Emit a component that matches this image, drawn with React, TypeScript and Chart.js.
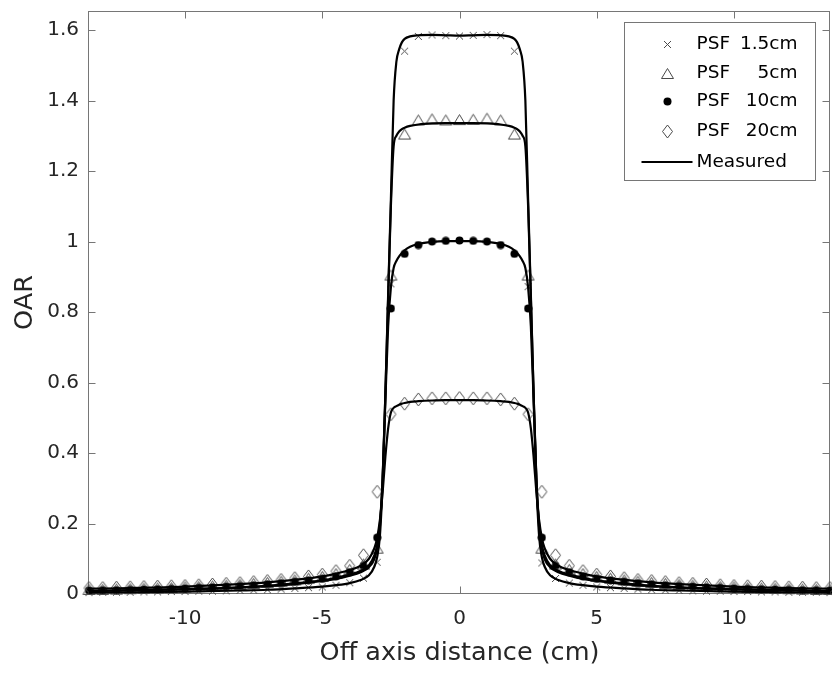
import React, { useEffect, useRef } from 'react';
import { Chart, registerables } from 'chart.js';

Chart.register(...registerables);

const FONT = '"DejaVu Sans", "Liberation Sans", Arial, sans-serif';
const TEXT = '#262626';
const AXIS = '#767676';
const MARK = '#4a4a4a';

// Axis ticks
const xTicks = [-10, -5, 0, 5, 10];
const xTickLabels = ['-10', '-5', '0', '5', '10'];
const yTicks = [0, 0.2, 0.4, 0.6, 0.8, 1, 1.2, 1.4, 1.6];
const yTickLabels = ['0', '0.2', '0.4', '0.6', '0.8', '1', '1.2', '1.4', '1.6'];

// PSF sample positions (cm)
const psfX = [
  -13.5, -13, -12.5, -12, -11.5, -11, -10.5, -10, -9.5, -9, -8.5, -8, -7.5, -7, -6.5, -6, -5.5, -5, -4.5, -4, -3.5, -3, -2.5, -2, -1.5, -1, -0.5,
  0,
  0.5, 1, 1.5, 2, 2.5, 3, 3.5, 4, 4.5, 5, 5.5, 6, 6.5, 7, 7.5, 8, 8.5, 9, 9.5, 10, 10.5, 11, 11.5, 12, 12.5, 13, 13.5,
];

const psf15 = [
  0.004, 0.005, 0.005, 0.005, 0.006, 0.006, 0.007, 0.007, 0.008, 0.008, 0.009, 0.010, 0.011, 0.012, 0.014, 0.016, 0.018, 0.020, 0.025, 0.032, 0.045, 0.090, 0.880, 1.540, 1.582, 1.586, 1.584,
  1.583,
  1.585, 1.587, 1.584, 1.540, 0.872, 0.088, 0.044, 0.031, 0.025, 0.020, 0.018, 0.016, 0.014, 0.012, 0.011, 0.010, 0.009, 0.008, 0.008, 0.007, 0.007, 0.006, 0.006, 0.005, 0.005, 0.005, 0.004,
];

const psf5 = [
  0.013, 0.013, 0.014, 0.015, 0.016, 0.017, 0.018, 0.020, 0.021, 0.023, 0.025, 0.027, 0.030, 0.033, 0.036, 0.040, 0.045, 0.050, 0.058, 0.070, 0.085, 0.130, 0.905, 1.305, 1.345, 1.348, 1.345,
  1.346,
  1.347, 1.350, 1.345, 1.305, 0.905, 0.130, 0.085, 0.070, 0.058, 0.050, 0.045, 0.040, 0.036, 0.033, 0.030, 0.027, 0.025, 0.023, 0.021, 0.020, 0.018, 0.017, 0.016, 0.015, 0.014, 0.013, 0.013,
];

const psf10 = [
  0.010, 0.011, 0.011, 0.012, 0.013, 0.014, 0.015, 0.016, 0.018, 0.019, 0.021, 0.023, 0.025, 0.028, 0.031, 0.035, 0.039, 0.043, 0.050, 0.062, 0.080, 0.160, 0.810, 0.965, 0.990, 1.000, 1.002,
  1.003,
  1.002, 1.000, 0.990, 0.965, 0.810, 0.160, 0.080, 0.062, 0.050, 0.043, 0.039, 0.035, 0.031, 0.028, 0.025, 0.023, 0.021, 0.019, 0.018, 0.016, 0.015, 0.014, 0.013, 0.012, 0.011, 0.011, 0.010,
];

const psf20 = [
  0.017, 0.017, 0.018, 0.019, 0.020, 0.021, 0.022, 0.023, 0.025, 0.027, 0.029, 0.031, 0.034, 0.037, 0.040, 0.045, 0.050, 0.055, 0.065, 0.080, 0.110, 0.290, 0.510, 0.540, 0.552, 0.555, 0.555,
  0.556,
  0.555, 0.555, 0.552, 0.540, 0.510, 0.290, 0.110, 0.080, 0.065, 0.055, 0.050, 0.045, 0.040, 0.037, 0.034, 0.031, 0.029, 0.027, 0.025, 0.023, 0.022, 0.021, 0.020, 0.019, 0.018, 0.017, 0.017,
];

// Measured profile positions (cm)
const measX = [
  -13.5, -12, -10, -8, -7, -6, -5, -4.5, -4, -3.6, -3.3, -3.1, -3.0, -2.9, -2.8, -2.7, -2.6, -2.5, -2.4, -2.3, -2.2, -2.1, -2.0, -1.8, -1.5, -1.0, -0.5,
  0,
  0.5, 1.0, 1.5, 1.8, 2.0, 2.1, 2.2, 2.3, 2.4, 2.5, 2.6, 2.7, 2.8, 2.9, 3.0, 3.1, 3.3, 3.6, 4, 4.5, 5, 6, 7, 8, 10, 12, 13.5,
];

const meas15 = [
  0.004, 0.005, 0.007, 0.010, 0.012, 0.016, 0.021, 0.025, 0.031, 0.040, 0.053, 0.078, 0.105, 0.165, 0.32, 0.57, 0.85, 1.12, 1.40, 1.51, 1.545, 1.565, 1.575, 1.582, 1.585, 1.586, 1.585,
  1.584,
  1.585, 1.586, 1.585, 1.582, 1.575, 1.565, 1.545, 1.51, 1.40, 1.12, 0.85, 0.57, 0.32, 0.165, 0.105, 0.078, 0.053, 0.040, 0.031, 0.025, 0.021, 0.016, 0.012, 0.010, 0.007, 0.005, 0.004,
];

const meas5 = [
  0.008, 0.010, 0.013, 0.018, 0.022, 0.028, 0.037, 0.043, 0.052, 0.062, 0.076, 0.10, 0.13, 0.19, 0.33, 0.57, 0.84, 1.10, 1.27, 1.30, 1.312, 1.319, 1.323, 1.328, 1.332, 1.335, 1.336,
  1.336,
  1.336, 1.335, 1.332, 1.328, 1.323, 1.319, 1.312, 1.30, 1.27, 1.10, 0.84, 0.57, 0.33, 0.19, 0.13, 0.10, 0.076, 0.062, 0.052, 0.043, 0.037, 0.028, 0.022, 0.018, 0.013, 0.010, 0.008,
];

const meas10 = [
  0.009, 0.011, 0.014, 0.019, 0.023, 0.030, 0.039, 0.046, 0.055, 0.066, 0.082, 0.11, 0.14, 0.20, 0.33, 0.55, 0.76, 0.87, 0.925, 0.945, 0.958, 0.967, 0.975, 0.985, 0.993, 0.999, 1.001,
  1.001,
  1.001, 0.999, 0.993, 0.985, 0.975, 0.967, 0.958, 0.945, 0.925, 0.87, 0.76, 0.55, 0.33, 0.20, 0.14, 0.11, 0.082, 0.066, 0.055, 0.046, 0.039, 0.030, 0.023, 0.019, 0.014, 0.011, 0.009,
];

const meas20 = [
  0.015, 0.017, 0.021, 0.028, 0.033, 0.040, 0.050, 0.058, 0.068, 0.080, 0.10, 0.13, 0.16, 0.21, 0.29, 0.39, 0.47, 0.515, 0.528, 0.533, 0.537, 0.540, 0.542, 0.545, 0.547, 0.549, 0.550,
  0.550,
  0.550, 0.549, 0.547, 0.545, 0.542, 0.540, 0.537, 0.533, 0.528, 0.515, 0.47, 0.39, 0.29, 0.21, 0.16, 0.13, 0.10, 0.080, 0.068, 0.058, 0.050, 0.040, 0.033, 0.028, 0.021, 0.017, 0.015,
];

const psfLabels = ['PSF 1.5cm', 'PSF 5cm', 'PSF 10cm', 'PSF 20cm'];
const measuredLabel = 'Measured';

function makeMarker(kind: string): HTMLCanvasElement {
  const c = document.createElement('canvas');
  if (kind === 'cross') {
    c.width = 9; c.height = 9;
    const ctx = c.getContext('2d')!;
    ctx.strokeStyle = MARK; ctx.lineWidth = 1;
    ctx.beginPath();
    ctx.moveTo(1, 1); ctx.lineTo(8, 8);
    ctx.moveTo(8, 1); ctx.lineTo(1, 8);
    ctx.stroke();
  } else if (kind === 'triangle') {
    c.width = 15; c.height = 13;
    const ctx = c.getContext('2d')!;
    ctx.strokeStyle = MARK; ctx.lineWidth = 1;
    ctx.beginPath();
    ctx.moveTo(7.5, 1.5); ctx.lineTo(13.5, 11.5); ctx.lineTo(1.5, 11.5); ctx.closePath();
    ctx.stroke();
  } else if (kind === 'dot') {
    c.width = 9; c.height = 9;
    const ctx = c.getContext('2d')!;
    ctx.fillStyle = '#000';
    ctx.beginPath(); ctx.arc(4.5, 4.5, 4, 0, Math.PI * 2); ctx.fill();
  } else {
    c.width = 13; c.height = 15;
    const ctx = c.getContext('2d')!;
    ctx.strokeStyle = MARK; ctx.lineWidth = 1;
    ctx.beginPath();
    ctx.moveTo(6.5, 1); ctx.lineTo(11.5, 7.5); ctx.lineTo(6.5, 14); ctx.lineTo(1.5, 7.5); ctx.closePath();
    ctx.stroke();
  }
  return c;
}

function zip(xs: number[], ys: number[]) {
  return xs.map((x, i) => ({ x, y: ys[i] }));
}

export default function App() {
  const ref = useRef<HTMLCanvasElement>(null);

  useEffect(() => {
    if (!ref.current) return;
    const markers = ['cross', 'triangle', 'dot', 'diamond'].map(makeMarker);
    const psfSeries = [psf15, psf5, psf10, psf20];
    const measSeries = [meas15, meas5, meas10, meas20];

    const lineSets = measSeries.map((ys, i) => ({
      label: i === 0 ? measuredLabel : measuredLabel + ' ' + i,
      data: zip(measX, ys),
      showLine: true,
      borderColor: '#000',
      borderWidth: 2.2,
      pointRadius: 0,
      cubicInterpolationMode: 'monotone' as const,
      clip: false as const,
    }));
    const psfSets = psfSeries.map((ys, i) => ({
      label: psfLabels[i],
      data: zip(psfX, ys),
      showLine: false,
      pointStyle: markers[i],
      pointRadius: 5,
      borderColor: MARK,
      backgroundColor: MARK,
      clip: false as const,
    }));

    const framePlugin = {
      id: 'frame',
      beforeDatasetsDraw(chart: any) {
        const { ctx, chartArea: a, scales } = chart;
        ctx.save();
        ctx.strokeStyle = AXIS;
        ctx.lineWidth = 1;
        const L = Math.round(a.left) - 0.5;
        const R = Math.round(a.right) - 0.5;
        const T = Math.round(a.top) + 0.5;
        const B = Math.round(a.bottom) - 0.5;
        ctx.strokeRect(L, T, R - L, B - T);
        const tl = 7;
        ctx.beginPath();
        xTicks.forEach((v) => {
          const px = Math.round(scales.x.getPixelForValue(v)) + 0.5;
          ctx.moveTo(px, B); ctx.lineTo(px, B - tl);
          ctx.moveTo(px, T); ctx.lineTo(px, T + tl);
        });
        yTicks.forEach((v) => {
          const py = Math.round(scales.y.getPixelForValue(v)) + 0.5;
          ctx.moveTo(L, py); ctx.lineTo(L + tl, py);
          ctx.moveTo(R, py); ctx.lineTo(R - tl, py);
        });
        ctx.stroke();
        ctx.restore();
      },
    };

    const legendPlugin = {
      id: 'matlabLegend',
      afterDraw(chart: any) {
        const { ctx, chartArea: a } = chart;
        const w = 191, h = 158;
        const x0 = Math.round(a.right) - 15 - w + 0.5;
        const y0 = Math.round(a.top) + 11 + 0.5;
        ctx.save();
        ctx.fillStyle = '#fff';
        ctx.fillRect(x0, y0, w, h);
        ctx.strokeStyle = AXIS;
        ctx.lineWidth = 1;
        ctx.strokeRect(x0, y0, w, h);
        ctx.font = `18.5px ${FONT}`;
        ctx.fillStyle = '#000';
        ctx.textBaseline = 'middle';
        const rows = [21.5, 50.5, 78.5, 108.5, 139.5];
        const mx = x0 + 43;
        const tLeft = x0 + 72;
        const tRight = x0 + 173;
        psfLabels.forEach((lab, i) => {
          const cy = y0 + rows[i];
          const m = markers[i];
          ctx.drawImage(m, Math.round(mx - m.width / 2), Math.round(cy - m.height / 2));
          const sp = lab.indexOf(' ');
          ctx.textAlign = 'left';
          ctx.fillText(lab.slice(0, sp), tLeft, cy);
          ctx.textAlign = 'right';
          ctx.fillText(lab.slice(sp + 1), tRight, cy);
        });
        const cy = y0 + rows[4];
        ctx.strokeStyle = '#000';
        ctx.lineWidth = 2.2;
        ctx.beginPath();
        ctx.moveTo(x0 + 17, cy); ctx.lineTo(x0 + 68, cy);
        ctx.stroke();
        ctx.textAlign = 'left';
        ctx.fillText(measuredLabel, tLeft, cy);
        ctx.restore();
      },
    };

    const chart = new Chart(ref.current, {
      type: 'scatter',
      data: { datasets: [...lineSets, ...psfSets] as any },
      options: {
        animation: false,
        responsive: false,
        devicePixelRatio: 1,
        layout: { autoPadding: false, padding: { top: 11, right: 2, left: 0, bottom: 0 } },
        plugins: { legend: { display: false }, tooltip: { enabled: false } },
        scales: {
          x: {
            type: 'linear',
            min: -13.5,
            max: 13.5,
            afterBuildTicks: (s: any) => { s.ticks = xTicks.map((v) => ({ value: v })); },
            afterFit: (s: any) => { s.height = 82; s.paddingLeft = 0; s.paddingRight = 0; },
            ticks: {
              autoSkip: false,
              maxRotation: 0,
              padding: 13,
              color: TEXT,
              font: { family: FONT, size: 20 },
              callback: (v: any) => { const i = xTicks.indexOf(Number(v)); return i >= 0 ? xTickLabels[i] : ''; },
            },
            grid: { display: false, drawTicks: false },
            border: { display: false },
            title: {
              display: true,
              text: 'Off axis distance (cm)',
              color: TEXT,
              font: { family: FONT, size: 25.5 },
              padding: { top: 0, bottom: 7 },
            },
          },
          y: {
            type: 'linear',
            min: 0,
            max: 1.654,
            afterBuildTicks: (s: any) => { s.ticks = yTicks.map((v) => ({ value: v })); },
            afterFit: (s: any) => { s.width = 89; s.paddingTop = 0; s.paddingBottom = 0; },
            ticks: {
              autoSkip: false,
              padding: 10,
              color: TEXT,
              font: { family: FONT, size: 20 },
              callback: (v: any) => { const i = yTicks.findIndex((t) => Math.abs(t - Number(v)) < 1e-9); return i >= 0 ? yTickLabels[i] : ''; },
            },
            grid: { display: false, drawTicks: false },
            border: { display: false },
            title: {
              display: true,
              text: 'OAR',
              color: TEXT,
              font: { family: FONT, size: 25.5 },
              padding: { top: 10, bottom: 0 },
            },
          },
        },
      },
      plugins: [framePlugin, legendPlugin],
    });
    return () => chart.destroy();
  }, []);

  return (
    <div style={{ position: 'fixed', left: 0, top: 0, width: 832, height: 676, background: '#fff' }}>
      <canvas ref={ref} width={832} height={676} style={{ width: 832, height: 676, display: 'block' }} />
    </div>
  );
}
